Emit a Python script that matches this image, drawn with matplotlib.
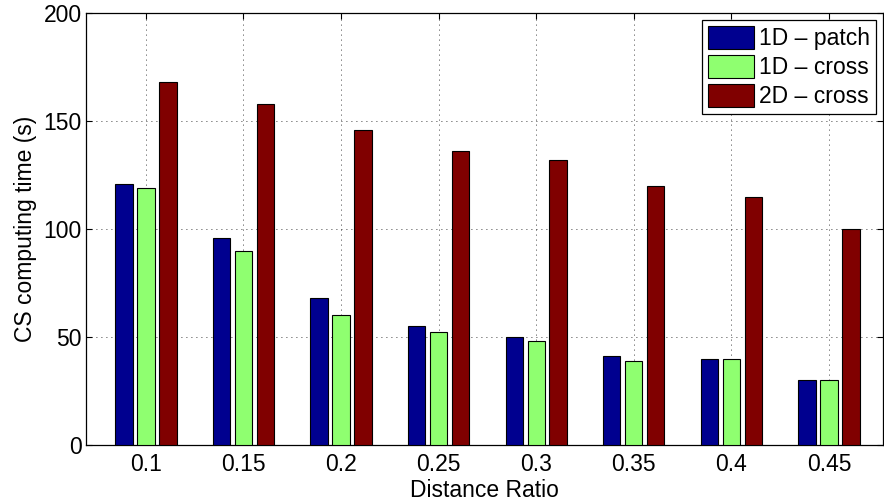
import numpy as np
import matplotlib
matplotlib.use("Agg")
import matplotlib.pyplot as plt

# -- DATA --
ratios = [0.1, 0.15, 0.2, 0.25, 0.3, 0.35, 0.4, 0.45]
tick_labels = ["0.1", "0.15", "0.2", "0.25", "0.3", "0.35", "0.4", "0.45"]
patch_1d = [121, 96, 68, 55, 50, 41, 40, 30]
cross_1d = [119, 90, 60, 52.5, 48, 39, 40, 30]
cross_2d = [168, 158, 146, 136, 132, 120, 115, 100]
series_names = ["1D \u2013 patch", "1D \u2013 cross", "2D \u2013 cross"]
# -- -- -- --

plt.rcParams['font.family'] = ['Liberation Sans', 'DejaVu Sans']

colors = ["#00008F", "#8FFF70", "#800000"]
width = 0.0089
step = 0.01127
fs = 16.5

fig = plt.figure(figsize=(8.84, 5.04), dpi=100)
ax = fig.add_axes([0.0973, 0.117, 0.9015, 0.857])

x = np.array(ratios)
for i, (vals, name) in enumerate(zip([patch_1d, cross_1d, cross_2d], series_names)):
    ax.bar(x + (i - 1) * step, vals, width, color=colors[i], edgecolor="black",
           linewidth=0.8, label=name, zorder=3)

ax.set_xlim(0.0693, 0.4777)
ax.set_ylim(0, 200)
ax.set_xticks(ratios)
ax.set_xticklabels(tick_labels)
ax.set_yticks([0, 50, 100, 150, 200])

ax.grid(True, linestyle=(0, (1, 5)), color="black", linewidth=0.6, zorder=0)
ax.tick_params(direction="in", top=True, right=True, length=4, labelsize=fs)
ax.tick_params(axis="x", pad=6)
ax.tick_params(axis="y", pad=3)
for s in ax.spines.values():
    s.set_linewidth(0.9)

ax.set_xlabel("Distance Ratio", fontsize=fs, labelpad=2)
ax.set_ylabel("CS computing time (s)", fontsize=fs, labelpad=5)

leg = ax.legend(loc="upper right", fontsize=fs, fancybox=False, framealpha=1,
                edgecolor="black", borderaxespad=0.3, handlelength=2.0,
                handleheight=1.2, labelspacing=0.2, borderpad=0.25, handletextpad=0.25)
leg.get_frame().set_linewidth(0.9)

fig.savefig("out.png", dpi=100)
